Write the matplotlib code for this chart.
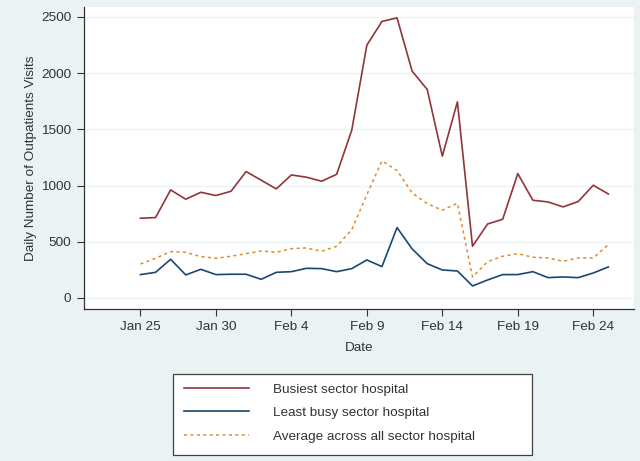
#!/usr/bin/env python3
"""Daily outpatient visits per sector hospital, Jan 25 - Feb 25."""

import datetime as dt

import matplotlib
matplotlib.use("Agg")
import matplotlib.dates as mdates
import matplotlib.pyplot as plt
from matplotlib.patches import Rectangle

plt.rcParams["font.family"] = ["Liberation Sans", "DejaVu Sans"]

START = dt.date(2020, 1, 25)
N_DAYS = 32

busiest = [709, 715, 961, 878, 940, 911, 949, 1124, 1047, 970, 1094, 1074, 1038, 1100,
           1492, 2248, 2459, 2491, 2017, 1854, 1261, 1744, 460, 658, 700, 1106, 869, 854,
           810, 857, 1002, 925]
least_busy = [208, 228, 344, 205, 255, 208, 211, 211, 166, 228, 234, 264, 261, 234,
              261, 338, 279, 626, 436, 305, 249, 240, 107, 160, 208, 208, 234, 181,
              187, 181, 222, 276]
average = [302, 353, 412, 406, 368, 353, 371, 394, 418, 406, 439, 445, 415, 460,
           608, 919, 1219, 1133, 934, 839, 780, 842, 187, 323, 371, 394, 362, 356,
           326, 356, 356, 475]

labels = ["Busiest sector hospital", "Least busy sector hospital",
          "Average across all sector hospital"]
tick_dates = [dt.date(2020, 1, 25), dt.date(2020, 1, 30), dt.date(2020, 2, 4),
              dt.date(2020, 2, 9), dt.date(2020, 2, 14), dt.date(2020, 2, 19),
              dt.date(2020, 2, 24)]
tick_labels = ["Jan 25", "Jan 30", "Feb 4", "Feb 9", "Feb 14", "Feb 19", "Feb 24"]

BG = "#eaf2f3"
INK = "#333333"
FS = 9.7

dates = [START + dt.timedelta(days=i) for i in range(N_DAYS)]

fig = plt.figure(figsize=(6.4, 4.61), dpi=100, facecolor=BG)
ax = fig.add_axes([84 / 640, 1 - 309 / 461, 550 / 640, 302.3 / 461])
ax.set_facecolor("white")

ax.plot(dates, busiest, color="#90353b", lw=1.2, label=labels[0])
ax.plot(dates, least_busy, color="#1a476f", lw=1.2, label=labels[1])
ax.plot(dates, average, color="#e08a30", lw=1.1, linestyle=(0, (2, 2.2)), label=labels[2])

x0 = mdates.date2num(START)
ax.set_xlim(x0 - 3.74, x0 + 32.7)
ax.set_ylim(-98, 2590)

ax.set_xticks(tick_dates)
ax.set_xticklabels(tick_labels)
ax.set_yticks([0, 500, 1000, 1500, 2000, 2500])
ax.tick_params(direction="out", length=5, width=0.8, colors=INK, labelsize=FS, pad=4)

ax.grid(axis="y", color=BG, lw=0.9)
ax.set_axisbelow(True)
for side in ("top", "right"):
    ax.spines[side].set_visible(False)
for side in ("left", "bottom"):
    ax.spines[side].set_color(INK)
    ax.spines[side].set_linewidth(0.9)

ax.set_xlabel("Date", fontsize=FS, color=INK, labelpad=6)
ax.set_ylabel("Daily Number of Outpatients Visits", fontsize=FS, color=INK, labelpad=3)

# legend frame drawn by hand so it keeps the wide Stata box
fig.patches.append(Rectangle((173.3 / 640, 1 - 455 / 461), 358.4 / 640, 80.7 / 461,
                             transform=fig.transFigure, facecolor="white",
                             edgecolor="#404040", lw=0.9, zorder=0))
handles, _ = ax.get_legend_handles_labels()
fig.legend(handles, labels, loc="upper left",
           bbox_to_anchor=(172 / 640, 1 - 371 / 461), frameon=False,
           fontsize=FS, handlelength=4.85, handletextpad=1.75,
           labelspacing=0.82, labelcolor=INK)

fig.savefig("out.png", dpi=100, facecolor=BG)
